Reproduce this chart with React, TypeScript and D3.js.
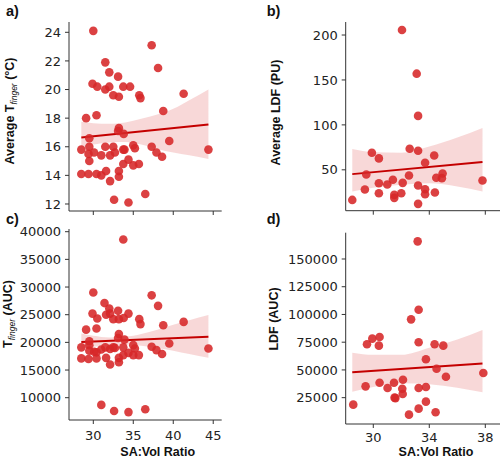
import React from "react";
import * as d3 from "d3";

// ---------- Data ----------
// Panel a: Average T_finger (°C) vs SA:Vol Ratio
const aX = [30.0, 31.5, 32.0, 33.1, 29.9, 30.5, 31.5, 32.0, 32.5, 33.2, 33.75, 34.6, 35.75, 35.9, 37.3, 38.1, 41.3, 38.75, 29.1, 30.4, 33.2, 33.1, 33.8, 29.5, 39.5, 28.5, 29.5, 29.4, 30.1, 31.0, 31.5, 32.1, 32.5, 32.7, 33.75, 33.9, 35.0, 35.2, 37.3, 37.9, 38.6, 44.4, 29.5, 28.5, 29.4, 30.4, 31.0, 31.6, 32.1, 33.2, 33.2, 33.75, 34.4, 35.0, 35.7, 32.6, 34.4, 36.5];
const aY = [24.1, 21.9, 21.2, 20.9, 20.4, 20.2, 20.0, 20.2, 19.6, 19.5, 20.2, 20.2, 19.6, 19.4, 23.1, 21.5, 19.7, 18.5, 18.0, 18.2, 17.3, 17.1, 16.9, 16.6, 16.4, 15.8, 16.0, 15.5, 15.6, 15.4, 16.0, 15.4, 16.0, 15.6, 15.8, 15.8, 16.1, 15.9, 16.0, 15.6, 15.3, 15.8, 15.0, 14.1, 14.1, 14.1, 14.0, 14.3, 13.6, 14.3, 13.9, 14.8, 15.1, 14.7, 14.8, 12.3, 12.1, 12.7];
const aFitX = [28.5, 44.4];
const aFitY = [16.65, 17.55];
const aBandX = [28.5, 30, 32, 34, 36, 38, 40, 42, 44.4];
const aBandHi = [17.75, 17.65, 17.6, 17.7, 17.95, 18.25, 18.65, 19.25, 20.0];
const aBandLo = [16.0, 16.15, 16.3, 16.33, 16.15, 15.85, 15.6, 15.4, 15.15];

// Panel b: Average LDF (PU) vs SA:Vol Ratio
const bX = [32.05, 33.1, 33.2, 32.6, 33.2, 29.9, 30.4, 34.35, 33.7, 29.5, 34.95, 32.55, 34.5, 34.9, 37.8, 31.4, 32.1, 30.4, 31.0, 33.2, 29.4, 33.7, 30.4, 31.5, 32.0, 33.7, 34.4, 31.5, 28.5, 33.2];
const bY = [205.6, 157, 110, 73.5, 71.2, 69, 62.7, 66, 57.8, 44.8, 45.9, 43.7, 41.1, 40.7, 38.1, 38.9, 35.5, 35.1, 33.6, 32.5, 28.1, 28.4, 24, 22.1, 24, 22.9, 24.7, 18.8, 16.5, 12.1];
const bFitX = [28.5, 37.8];
const bFitY = [45.2, 58.6];
const bBandX = [28.5, 30, 32, 34, 36, 37.8];
const bBandHi = [73.1, 69.5, 69.0, 76.0, 86.0, 96.6];
const bBandLo = [26.0, 30.0, 33.5, 35.0, 31.5, 26.0];

// Panel c: T_finger (AUC) vs SA:Vol Ratio
const cX = [33.75, 30.0, 37.3, 31.4, 38.1, 32.0, 29.9, 31.6, 32.1, 33.1, 34.4, 30.5, 32.5, 33.2, 33.8, 35.75, 35.9, 41.3, 38.75, 29.1, 30.4, 33.2, 33.1, 29.5, 33.9, 39.5, 28.5, 29.5, 30.1, 31.0, 31.5, 32.1, 32.5, 32.7, 33.75, 35.0, 35.2, 37.3, 37.9, 38.6, 44.4, 28.5, 29.4, 30.4, 31.6, 32.1, 33.2, 33.2, 33.75, 34.4, 35.0, 35.7, 31.0, 32.6, 34.4, 36.5, 29.5, 30.4];
const cY = [38600, 29000, 28500, 27100, 26600, 26100, 25200, 25000, 25200, 25700, 25200, 24300, 24200, 24200, 24400, 24200, 23300, 23700, 23100, 22300, 22500, 21500, 20800, 20200, 20500, 19800, 19100, 19500, 18300, 18700, 19100, 18800, 19100, 19000, 19100, 19500, 18900, 19200, 18600, 17900, 18900, 17100, 17000, 17100, 17200, 16000, 16400, 17200, 17700, 18100, 17700, 17700, 8700, 7600, 7400, 7900, 18500, 18200];
const cFitX = [28.5, 44.4];
const cFitY = [20050, 21000];
const cBandX = [28.5, 30, 32, 34, 36, 38, 40, 42, 44.4];
const cBandHi = [21600, 21200, 20900, 21000, 21500, 22300, 23200, 24000, 24950];
const cBandLo = [18750, 19200, 19500, 19600, 19400, 19000, 18500, 17900, 17230];

// Panel d: LDF (AUC) vs SA:Vol Ratio
const dX = [33.17, 33.24, 32.7, 29.55, 29.93, 30.45, 30.4, 33.24, 34.38, 35.0, 33.76, 34.52, 35.19, 37.86, 32.12, 31.48, 30.45, 29.45, 31.02, 32.07, 33.24, 33.76, 32.1, 31.52, 31.58, 33.76, 28.57, 33.24, 34.45, 32.55];
const dY = [165900, 104300, 95600, 73100, 78200, 79700, 71900, 74900, 73100, 71900, 59600, 51100, 43900, 47200, 41200, 38500, 38500, 35200, 33700, 33100, 33700, 34600, 28300, 25000, 24600, 21400, 18700, 15100, 11800, 9700];
const dFitX = [28.5, 37.8];
const dFitY = [47900, 55900];
const dBandX = [28.5, 30, 32, 34, 36, 37.8];
const dBandHi = [65500, 63600, 63600, 70000, 77500, 86000];
const dBandLo = [30400, 34500, 38000, 37000, 34000, 29800];

// Tick labels
const xTicksWide = [30, 35, 40, 45];
const xTicksNarrow = [30, 34, 38];
const aYTicks = [12, 14, 16, 18, 20, 22, 24];
const bYTicks = [50, 100, 150, 200];
const cYTicks = [10000, 15000, 20000, 25000, 30000, 35000, 40000];
const dYTicks = [25000, 50000, 75000, 100000, 125000, 150000];

// ---------- Styling ----------
const POINT = "#d62728";
const LINE = "#c40000";
const AXIS = "#333333";
const TICK_FONT = "'DejaVu Sans', sans-serif";
const LABEL_FONT = "'Liberation Sans', Arial, sans-serif";

type PanelProps = {
  box: [number, number, number, number]; // left, right, top, bottom
  xDomain: [number, number];
  yDomain: [number, number];
  xTicks: number[];
  showXLabels: boolean;
  xLabelOffset?: number;
  yTicks: number[];
  xs: number[];
  ys: number[];
  fitX: number[];
  fitY: number[];
  bandX: number[];
  bandHi: number[];
  bandLo: number[];
};

function Panel(p: PanelProps) {
  const [l, r, t, b] = p.box;
  const x = d3.scaleLinear().domain(p.xDomain).range([l, r]);
  const y = d3.scaleLinear().domain(p.yDomain).range([b, t]);
  const bandData = p.bandX.map((v, i) => ({ x: v, lo: p.bandLo[i], hi: p.bandHi[i] }));
  const area = d3
    .area<{ x: number; lo: number; hi: number }>()
    .x((d) => x(d.x))
    .y0((d) => y(d.lo))
    .y1((d) => y(d.hi))
    .curve(d3.curveMonotoneX);
  const fit = p.fitX.map((v, i) => [v, p.fitY[i]] as [number, number]);
  const line = d3
    .line<[number, number]>()
    .x((d) => x(d[0]))
    .y((d) => y(d[1]));
  const off = p.xLabelOffset ?? 20;
  return (
    <g>
      <path d={area(bandData) || ""} fill={POINT} fillOpacity={0.18} />
      <path d={line(fit) || ""} stroke={LINE} strokeWidth={2} fill="none" />
      {p.xs.map((v, i) => (
        <circle key={i} cx={x(v)} cy={y(p.ys[i])} r={4.3} fill={POINT} fillOpacity={0.88} />
      ))}
      <line x1={l} x2={l} y1={t} y2={b} stroke={AXIS} strokeWidth={1} />
      <line x1={l} x2={r} y1={b} y2={b} stroke={AXIS} strokeWidth={1} />
      {p.yTicks.map((v) => (
        <g key={"y" + v}>
          <line x1={l - 4} x2={l} y1={y(v)} y2={y(v)} stroke={AXIS} strokeWidth={1} />
          <text
            x={l - 8}
            y={y(v)}
            dy="0.36em"
            textAnchor="end"
            fontFamily={TICK_FONT}
            fontSize={13}
            fill="#222"
          >
            {v}
          </text>
        </g>
      ))}
      {p.xTicks.map((v) => (
        <g key={"x" + v}>
          <line x1={x(v)} x2={x(v)} y1={b} y2={b + 4} stroke={AXIS} strokeWidth={1} />
          {p.showXLabels && (
            <text
              x={x(v)}
              y={b + off}
              textAnchor="middle"
              fontFamily={TICK_FONT}
              fontSize={13}
              fill="#222"
            >
              {v}
            </text>
          )}
        </g>
      ))}
    </g>
  );
}

function YLabel({ x, y, children }: { x: number; y: number; children: React.ReactNode }) {
  return (
    <text
      transform={`translate(${x},${y}) rotate(-90)`}
      textAnchor="middle"
      fontFamily={LABEL_FONT}
      fontWeight="bold"
      fontSize={12.5}
      fill="#111"
    >
      {children}
    </text>
  );
}

function PanelLetter({ x, y, s }: { x: number; y: number; s: string }) {
  return (
    <text x={x} y={y} fontFamily={LABEL_FONT} fontWeight="bold" fontSize={14.5} fill="#111">
      {s}
    </text>
  );
}

export default function App() {
  return (
    <svg
      width={500}
      height={458}
      style={{ position: "absolute", left: 0, top: 0, background: "#fff" }}
    >
      <Panel
        box={[69, 221.7, 22, 211]}
        xDomain={[26.96, 46.06]}
        yDomain={[11.51, 24.72]}
        xTicks={xTicksWide}
        showXLabels={false}
        yTicks={aYTicks}
        xs={aX}
        ys={aY}
        fitX={aFitX}
        fitY={aFitY}
        bandX={aBandX}
        bandHi={aBandHi}
        bandLo={aBandLo}
      />
      <Panel
        box={[345.7, 500, 22, 210.7]}
        xDomain={[28.03, 39.05]}
        yDomain={[4.5, 214.5]}
        xTicks={xTicksNarrow}
        showXLabels={false}
        yTicks={bYTicks}
        xs={bX}
        ys={bY}
        fitX={bFitX}
        fitY={bFitY}
        bandX={bBandX}
        bandHi={bBandHi}
        bandLo={bBandLo}
      />
      <Panel
        box={[69, 221.7, 229, 420]}
        xDomain={[26.96, 46.06]}
        yDomain={[5970, 40488]}
        xTicks={xTicksWide}
        showXLabels={true}
        xLabelOffset={19.5}
        yTicks={cYTicks}
        xs={cX}
        ys={cY}
        fitX={cFitX}
        fitY={cFitY}
        bandX={cBandX}
        bandHi={cBandHi}
        bandLo={cBandLo}
      />
      <Panel
        box={[345.7, 500, 232.7, 424]}
        xDomain={[28.03, 39.05]}
        yDomain={[1260, 173700]}
        xTicks={xTicksNarrow}
        showXLabels={true}
        xLabelOffset={17.5}
        yTicks={dYTicks}
        xs={dX}
        ys={dY}
        fitX={dFitX}
        fitY={dFitY}
        bandX={dBandX}
        bandHi={dBandHi}
        bandLo={dBandLo}
      />

      <YLabel x={13.5} y={111}>
        Average T
        <tspan fontSize={8.5} fontStyle="italic" fontWeight="normal" dy={3}>
          finger
        </tspan>
        <tspan dy={-3}> (°C)</tspan>
      </YLabel>
      <YLabel x={279.5} y={112.5}>Average LDF (PU)</YLabel>
      <YLabel x={11.7} y={314}>
        T
        <tspan fontSize={8.5} fontStyle="italic" fontWeight="normal" dy={3}>
          finger
        </tspan>
        <tspan dy={-3}> (AUC)</tspan>
      </YLabel>
      <YLabel x={277.5} y={319}>LDF (AUC)</YLabel>

      <text x={157.7} y={456} textAnchor="middle" fontFamily={LABEL_FONT} fontWeight="bold" fontSize={12.5} fill="#111">
        SA:Vol Ratio
      </text>
      <text x={436} y={456} textAnchor="middle" fontFamily={LABEL_FONT} fontWeight="bold" fontSize={12.5} fill="#111">
        SA:Vol Ratio
      </text>

      <PanelLetter x={6} y={15.5} s="a)" />
      <PanelLetter x={266.7} y={15.5} s="b)" />
      <PanelLetter x={6} y={224.3} s="c)" />
      <PanelLetter x={266.7} y={224.3} s="d)" />
    </svg>
  );
}
